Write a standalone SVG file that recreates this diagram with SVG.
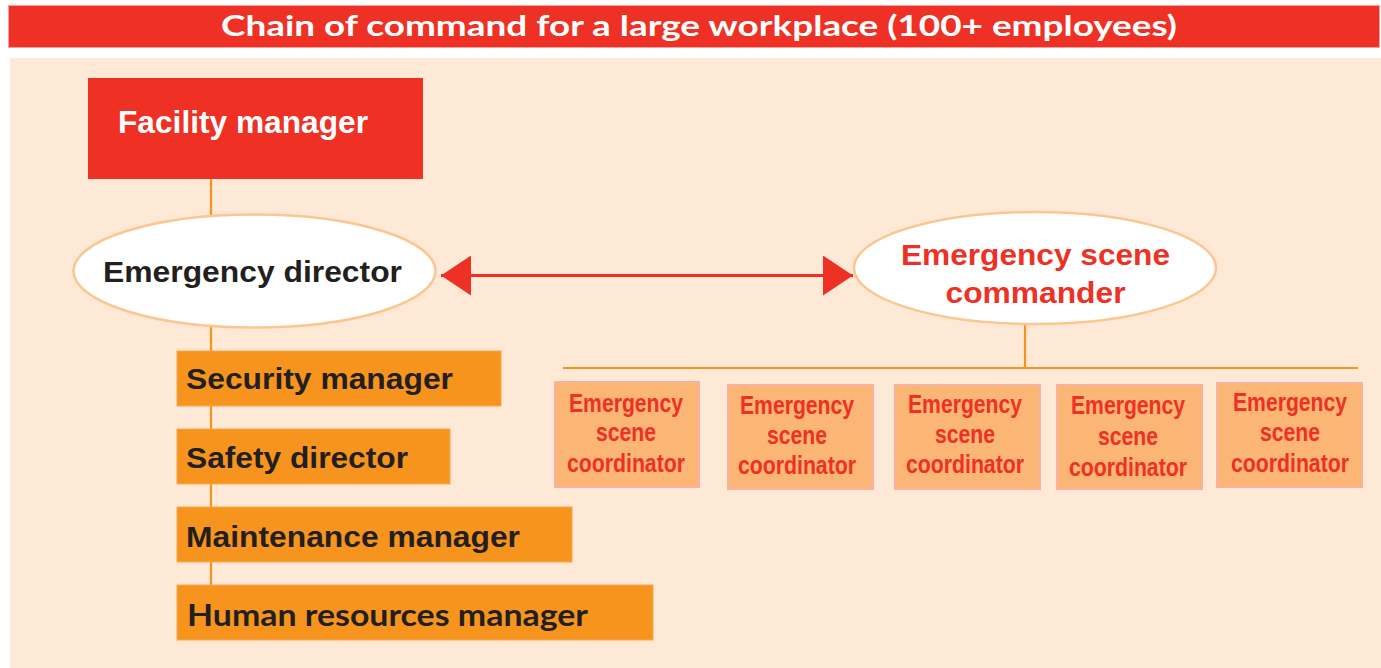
<svg xmlns="http://www.w3.org/2000/svg" width="1381" height="668" viewBox="0 0 1381 668">
<defs>
<style>
.red{fill:#EE3124}
.lbl{font-family:"Liberation Sans",Arial,sans-serif;font-weight:bold}
.dark{fill:#231F20}
.orangebox{fill:#F7941D;stroke:#F9A855;stroke-width:1}
.ell{fill:#FFFFFF;stroke:#FBC68F;stroke-width:2.5}
.coord{fill:#FBB574;stroke:#F8B3A0;stroke-width:2}
.ctext{font-family:"Liberation Sans",Arial,sans-serif;font-weight:bold;font-size:25px;fill:#EE3124;text-anchor:middle}
.conn{stroke:#F7941D;stroke-width:2.2;fill:none}
</style>
<marker id="ahR" viewBox="0 0 30 40" refX="30" refY="20" markerWidth="30" markerHeight="40" markerUnits="userSpaceOnUse" orient="auto">
<path d="M0,0 L30,20 L0,40 Z" fill="#EE3124"/>
</marker>
<marker id="ahL" viewBox="0 0 30 40" refX="0" refY="20" markerWidth="30" markerHeight="40" markerUnits="userSpaceOnUse" orient="auto">
<path d="M30,0 L0,20 L30,40 Z" fill="#EE3124"/>
</marker>
</defs>
<rect x="0" y="0" width="1381" height="668" fill="#FFFFFF"/>
<g id="title">
<rect x="8.5" y="5.5" width="1371" height="42" fill="#EE3124" stroke="#F5A0A0" stroke-width="1"/>
<text x="699" y="36" font-family="Lato,'Liberation Sans',sans-serif" font-weight="bold" font-size="29" fill="#FFFFFF" text-anchor="middle" textLength="956" lengthAdjust="spacingAndGlyphs">Chain of command for a large workplace (100+ employees)</text>
</g>
<rect id="panel" x="10" y="58" width="1371" height="610" fill="#FDE9D5"/>
<g id="connectors">
<line class="conn" x1="211" y1="179" x2="211" y2="640"/>
<line class="conn" x1="1025" y1="324" x2="1025" y2="368"/>
<line class="conn" x1="563" y1="368" x2="1358" y2="368"/>
<line x1="441" y1="275.5" x2="853" y2="275.5" stroke="#EE3124" stroke-width="3" marker-start="url(#ahL)" marker-end="url(#ahR)"/>
</g>
<g id="facility-manager">
<rect x="88" y="78" width="335" height="101" class="red"/>
<text x="118" y="133" class="lbl" font-size="31" fill="#FFFFFF" textLength="250" lengthAdjust="spacingAndGlyphs">Facility manager</text>
</g>
<g id="emergency-director">
<ellipse cx="254.5" cy="271" rx="181" ry="56.5" class="ell"/>
<text x="103" y="282" class="lbl dark" font-size="30" textLength="299" lengthAdjust="spacingAndGlyphs">Emergency director</text>
</g>
<g id="emergency-scene-commander">
<ellipse cx="1035" cy="268" rx="181" ry="56" class="ell"/>
<text x="1035.5" y="265" class="lbl red" font-size="30" text-anchor="middle" textLength="269" lengthAdjust="spacingAndGlyphs">Emergency scene</text>
<text x="1035.5" y="303" class="lbl red" font-size="30" text-anchor="middle" textLength="180" lengthAdjust="spacingAndGlyphs">commander</text>
</g>
<g id="security-manager">
<rect x="177" y="351" width="324" height="55" class="orangebox"/>
<text x="186" y="389" class="lbl dark" font-size="30" textLength="267" lengthAdjust="spacingAndGlyphs">Security manager</text>
</g>
<g id="safety-director">
<rect x="177" y="429" width="273" height="55" class="orangebox"/>
<text x="186" y="468" class="lbl dark" font-size="30" textLength="222" lengthAdjust="spacingAndGlyphs">Safety director</text>
</g>
<g id="maintenance-manager">
<rect x="177" y="507" width="395" height="55" class="orangebox"/>
<text x="186" y="547" class="lbl dark" font-size="30" textLength="334" lengthAdjust="spacingAndGlyphs">Maintenance manager</text>
</g>
<g id="human-resources-manager">
<rect x="177" y="585" width="476" height="55" class="orangebox"/>
<text x="187" y="626" font-family="Lato,'Liberation Sans',sans-serif" font-weight="bold" font-size="30" class="dark" textLength="401" lengthAdjust="spacingAndGlyphs">Human resources manager</text>
</g>
<g id="coordinator-1">
<rect x="555" y="382" width="144" height="105" class="coord"/>
<text class="ctext" x="626" y="412" textLength="114" lengthAdjust="spacingAndGlyphs">Emergency</text>
<text class="ctext" x="626" y="441" textLength="60" lengthAdjust="spacingAndGlyphs">scene</text>
<text class="ctext" x="626" y="472" textLength="118" lengthAdjust="spacingAndGlyphs">coordinator</text>
</g>
<g id="coordinator-2">
<rect x="728" y="385" width="145" height="104" class="coord"/>
<text class="ctext" x="797" y="414" textLength="114" lengthAdjust="spacingAndGlyphs">Emergency</text>
<text class="ctext" x="797" y="444" textLength="60" lengthAdjust="spacingAndGlyphs">scene</text>
<text class="ctext" x="797" y="474" textLength="118" lengthAdjust="spacingAndGlyphs">coordinator</text>
</g>
<g id="coordinator-3">
<rect x="895" y="385" width="145" height="104" class="coord"/>
<text class="ctext" x="965" y="413" textLength="114" lengthAdjust="spacingAndGlyphs">Emergency</text>
<text class="ctext" x="965" y="443" textLength="60" lengthAdjust="spacingAndGlyphs">scene</text>
<text class="ctext" x="965" y="473" textLength="118" lengthAdjust="spacingAndGlyphs">coordinator</text>
</g>
<g id="coordinator-4">
<rect x="1057" y="385" width="145" height="104" class="coord"/>
<text class="ctext" x="1128" y="414" textLength="114" lengthAdjust="spacingAndGlyphs">Emergency</text>
<text class="ctext" x="1128" y="445" textLength="60" lengthAdjust="spacingAndGlyphs">scene</text>
<text class="ctext" x="1128" y="476" textLength="118" lengthAdjust="spacingAndGlyphs">coordinator</text>
</g>
<g id="coordinator-5">
<rect x="1217" y="383" width="145" height="104" class="coord"/>
<text class="ctext" x="1290" y="411" textLength="114" lengthAdjust="spacingAndGlyphs">Emergency</text>
<text class="ctext" x="1290" y="441" textLength="60" lengthAdjust="spacingAndGlyphs">scene</text>
<text class="ctext" x="1290" y="472" textLength="118" lengthAdjust="spacingAndGlyphs">coordinator</text>
</g>
</svg>
